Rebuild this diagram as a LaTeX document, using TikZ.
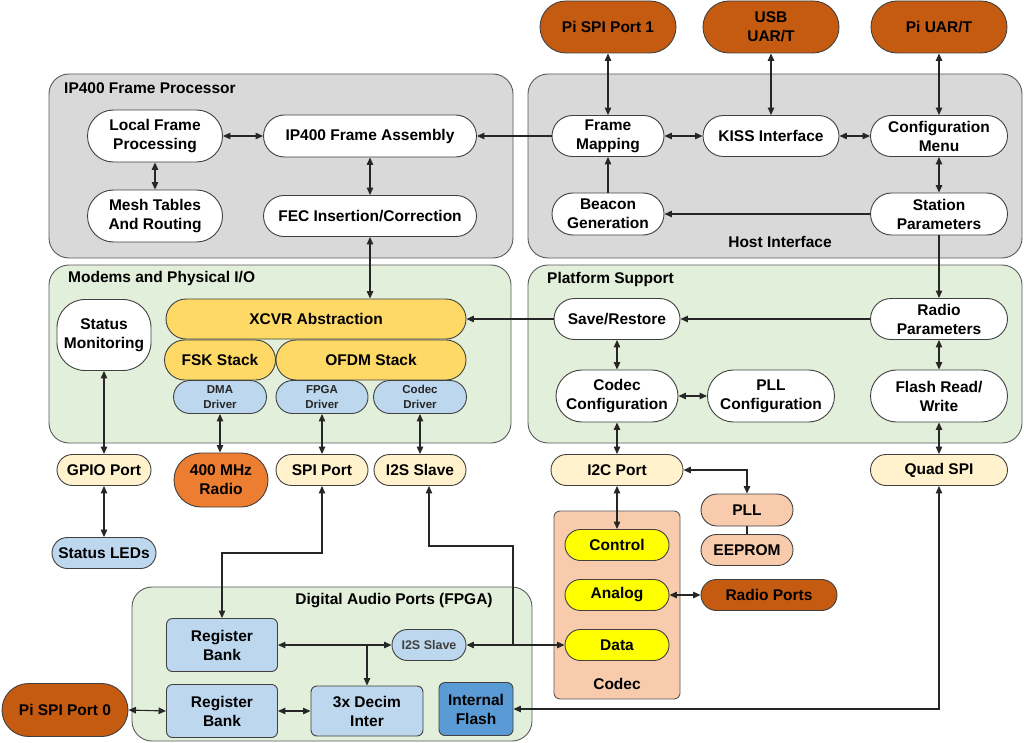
\documentclass[tikz,border=0pt]{standalone}
\usepackage{fontspec}
\setmainfont{Liberation Sans}
\usetikzlibrary{shapes.misc,arrows.meta,calc}
\definecolor{cgray}{HTML}{D9D9D9}
\definecolor{cgreen}{HTML}{E2EFDA}
\definecolor{gold}{HTML}{FFD966}
\definecolor{lblue}{HTML}{BDD7EE}
\definecolor{beige}{HTML}{FFF2CC}
\definecolor{dkor}{HTML}{C55A11}
\definecolor{orng}{HTML}{ED7D31}
\definecolor{peach}{HTML}{F8CBAD}
\definecolor{yel}{HTML}{FFFF00}
\definecolor{mblue}{HTML}{5B9BD5}
\definecolor{edgec}{HTML}{404040}
\definecolor{contc}{HTML}{595959}
\definecolor{wire}{HTML}{262626}
\tikzset{
  lbl/.style={font=\bfseries\fontsize{15.5}{19}\selectfont, align=center, inner sep=0pt},
  small/.style={font=\bfseries\fontsize{11.5}{14.5}\selectfont, text=black!85},
  pill/.style 2 args={lbl, rounded rectangle, draw=edgec, line width=0.9pt, minimum width=#1, minimum height=#2},
  rbox/.style 2 args={lbl, rectangle, rounded corners=6pt, draw=edgec, line width=0.9pt, minimum width=#1, minimum height=#2},
  cont/.style 2 args={rectangle, rounded corners=20pt, draw=contc, line width=0.9pt, minimum width=#1, minimum height=#2},
  tip/.tip={Triangle[length=7.5pt,width=6.5pt]},
  link/.style={draw=wire, line width=1.1pt, tip-tip},
  onearrow/.style={draw=wire, line width=1.1pt, -tip},
  plain/.style={draw=wire, line width=1.1pt},
}
\begin{document}
\begin{tikzpicture}[x=1pt,y=-1pt]
\useasboundingbox[fill=white] (0,0) rectangle (1024,743);

% containers
\node[cont={464pt}{184pt}, fill=cgray] (ipfp) at (281,166) {};
\node[cont={494pt}{184pt}, fill=cgray] (host) at (775,166) {};
\node[cont={462pt}{178pt}, fill=cgreen] (modem) at (280,354) {};
\node[cont={494pt}{178pt}, fill=cgreen] (plat) at (775,354) {};
\node[cont={400pt}{154pt}, fill=cgreen] (dap) at (332,664) {};
\node[rectangle, rounded corners=6pt, draw=contc, line width=0.9pt, fill=peach, minimum width=126pt, minimum height=188pt] (codecbox) at (617,605) {};

% container titles
\node[lbl, anchor=west] (t1) at (64,88) {IP400 Frame Processor};
\node[lbl] (t2) at (780,242) {Host Interface};
\node[lbl, anchor=west] (t3) at (68,278) {Modems and Physical I/O};
\node[lbl, anchor=west] (t4) at (547,279) {Platform Support};
\node[lbl] (t5) at (394,601) {Digital Audio Ports (FPGA)};
\node[lbl] (t6) at (617,684) {Codec};

% top external ports
\node[pill={136pt}{52pt}, fill=dkor] (sp1) at (608,27) {Pi SPI Port 1};
\node[pill={136pt}{52pt}, fill=dkor] (usb) at (771,27) {USB\\UAR/T};
\node[pill={136pt}{52pt}, fill=dkor] (puart) at (939,27) {Pi UAR/T};

% IP400 frame processor
\node[pill={135pt}{52pt}, fill=white] (lfp) at (155,136) {Local Frame\\Processing};
\node[pill={135pt}{52pt}, fill=white] (mesh) at (155,216) {Mesh Tables\\And Routing};
\node[pill={213pt}{42pt}, fill=white] (ipa) at (370,136) {IP400 Frame Assembly};
\node[pill={213pt}{41pt}, fill=white] (fec) at (370,216) {FEC Insertion/Correction};

% host interface
\node[pill={112pt}{41pt}, fill=white] (fm) at (608,136) {Frame\\Mapping};
\node[pill={136pt}{41pt}, fill=white] (kiss) at (771,136) {KISS Interface};
\node[pill={137pt}{41pt}, fill=white] (cfg) at (939,136) {Configuration\\Menu};
\node[pill={112pt}{42pt}, fill=white] (bcn) at (608,214) {Beacon\\Generation};
\node[pill={137pt}{42pt}, fill=white] (stp) at (939,214) {Station\\Parameters};

% modems
\node[lbl, rectangle, rounded corners=28pt, draw=edgec, line width=0.9pt, fill=white, minimum width=94pt, minimum height=71pt] (stm) at (104,335) {Status\\Monitoring};
\node[pill={300pt}{40pt}, fill=gold] (xcvr) at (316,319) {XCVR Abstraction};
\node[pill={111pt}{40pt}, fill=gold] (fsk) at (220,360) {FSK Stack};
\node[pill={190pt}{40pt}, fill=gold] (ofdm) at (371,360) {OFDM Stack};
\node[pill={93pt}{33pt}, fill=lblue, small] (dma) at (220,397) {DMA\\Driver};
\node[pill={92pt}{33pt}, fill=lblue, small] (fpga) at (322,397) {FPGA\\Driver};
\node[pill={93pt}{33pt}, fill=lblue, small] (cdrv) at (420,397) {Codec\\Driver};

% platform support
\node[pill={126pt}{41pt}, fill=white] (sr) at (617,319) {Save/Restore};
\node[pill={137pt}{41pt}, fill=white] (rp) at (939,319) {Radio\\Parameters};
\node[pill={122pt}{52pt}, fill=white] (cc) at (617,396) {Codec\\Configuration};
\node[pill={127pt}{52pt}, fill=white] (pllc) at (771,396) {PLL\\Configuration};
\node[pill={137pt}{52pt}, fill=white] (fl) at (939,396) {Flash Read/\\Write};

% physical ports
\node[pill={94pt}{31pt}, fill=beige] (gpio) at (104,470) {GPIO Port};
\node[pill={94pt}{54pt}, fill=orng] (radio) at (221,480) {400 MHz\\Radio};
\node[pill={92pt}{31pt}, fill=beige] (spi) at (322,470) {SPI Port};
\node[pill={92pt}{31pt}, fill=beige] (i2s) at (420,470) {I2S Slave};
\node[pill={132pt}{31pt}, fill=beige] (i2c) at (617,470) {I2C Port};
\node[pill={137pt}{31pt}, fill=beige] (qspi) at (939,470) {Quad SPI};
\node[pill={104pt}{31pt}, fill=lblue] (leds) at (104,553) {Status LEDs};
\node[pill={92pt}{32pt}, fill=peach] (pll) at (747,510) {PLL};
\node[pill={92pt}{31pt}, fill=peach] (eep) at (747,550) {EEPROM};
\node[pill={104pt}{31pt}, fill=yel] (ctrl) at (617,545) {Control};
\node[pill={104pt}{31pt}, fill=yel] (ana) at (617,595) {Analog};
\node[pill={104pt}{31pt}, fill=yel] (data) at (617,645) {Data};
\node[pill={136pt}{31pt}, fill=dkor] (rports) at (769,595) {Radio Ports};

% digital audio ports
\node[rbox={111pt}{53pt}, fill=lblue] (rb1) at (222,645) {Register\\Bank};
\node[rbox={111pt}{53pt}, fill=lblue] (rb2) at (222,711) {Register\\Bank};
\node[pill={74pt}{31pt}, fill=lblue, font=\bfseries\fontsize{12.5}{15}\selectfont, text=black!75] (i2sin) at (429,645) {I2S Slave};
\node[rbox={112pt}{50pt}, fill=lblue] (dec) at (367,711) {3x Decim\\Inter};
\node[rbox={74pt}{53pt}, fill=mblue] (ifl) at (476,709) {Internal\\Flash};
\node[pill={126pt}{53pt}, fill=dkor] (psp0) at (65,710) {Pi SPI Port 0};

\coordinate (jn) at (513,645);

% connectors: host interface
\draw[link] (sp1.south) -- (fm.north);
\draw[link] (usb.south) -- (kiss.north);
\draw[link] (puart.south) -- (cfg.north);
\draw[link] (fm.east) -- (kiss.west);
\draw[link] (kiss.east) -- (cfg.west);
\draw[link] (cfg.south) -- (stp.north);
\draw[onearrow] (stp.west) -- (bcn.east);
\draw[onearrow] (bcn.north) -- (fm.south);
\draw[onearrow] (fm.west) -- (ipa.east);

% IP400 frame processor
\draw[link] (lfp.east) -- (ipa.west);
\draw[link] (lfp.south) -- (mesh.north);
\draw[link] (ipa.south) -- (fec.north);
\draw[link] (fec.south) -- (fec.south |- xcvr.north);

% platform support
\draw[onearrow] (stp.south) -- (rp.north);
\draw[onearrow] (rp.west) -- (sr.east);
\draw[onearrow] (sr.west) -- (xcvr.east);
\draw[link] (sr.south) -- (cc.north);
\draw[link] (cc.east) -- (pllc.west);
\draw[link] (rp.south) -- (fl.north);
\draw[link] (fl.south) -- (qspi.north);
\draw[link] (cc.south) -- (i2c.north);

% modems to ports
\draw[link] (stm.south) -- (gpio.north);
\draw[link] (dma.south) -- (dma.south |- radio.north);
\draw[link] (fpga.south) -- (spi.north);
\draw[link] (cdrv.south) -- (i2s.north);
\draw[link] (gpio.south) -- (leds.north);

% codec area
\draw[link] (i2c.east) -| (pll.north);
\draw[plain] (pll.south) -- (eep.north);
\draw[link] (i2c.south) -- (ctrl.north);
\draw[link] (ana.east) -- (rports.west);

% digital audio
\draw[link] (rb1.north) -- (222,553) -| (spi.south);
\draw[onearrow] (jn) |- (429,546) -- (i2sin |- i2s.south);
\draw[link] (data.west) -- (i2sin.east);
\draw[link] (rb1.east) -- (i2sin.west);
\draw[onearrow] (dec.north |- rb1.east) -- (dec.north);
\draw[link] (rb2.east) -- (dec.west);
\draw[link] (psp0.east) -- (rb2.west);
\draw[link] (qspi.south) |- (ifl.east);
\end{tikzpicture}
\end{document}
